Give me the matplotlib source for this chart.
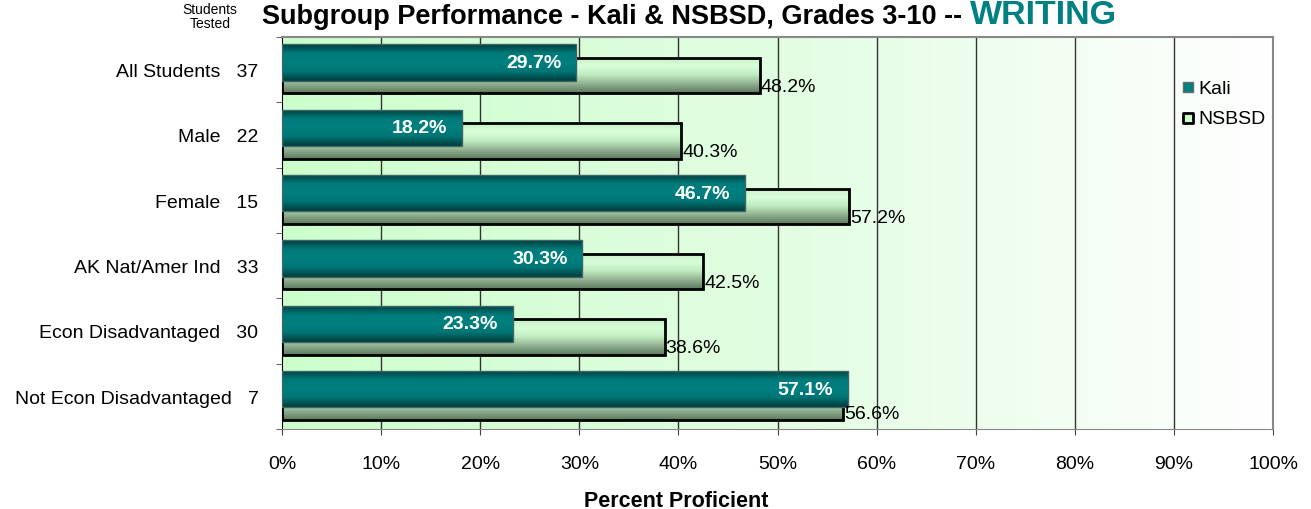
import numpy as np
import matplotlib.pyplot as plt
from matplotlib.colors import LinearSegmentedColormap

plt.rcParams['font.family'] = ['Liberation Sans', 'DejaVu Sans']

# donnees
groupes = ['All Students', 'Male', 'Female', 'AK Nat/Amer Ind',
           'Econ Disadvantaged', 'Not Econ Disadvantaged']
testes = [37, 22, 15, 33, 30, 7]
kali = [29.7, 18.2, 46.7, 30.3, 23.3, 57.1]
nsbsd = [48.2, 40.3, 57.2, 42.5, 38.6, 56.6]
graduations = [0, 10, 20, 30, 40, 50, 60, 70, 80, 90, 100]

fig = plt.figure(figsize=(13.11, 5.10), dpi=100)
ax = fig.add_axes([282 / 1311, 80 / 510, 991 / 1311, 392 / 510])

y = np.arange(len(groupes))

# fond vert degrade
fond = LinearSegmentedColormap.from_list('fond', ['#ccffcc', '#e2fde2', '#ffffff'])
ax.imshow(np.linspace(0, 1, 256).reshape(1, -1), cmap=fond, aspect='auto',
          extent=[0, 100, len(groupes) - 0.5, -0.5], zorder=0)

for g in graduations[1:-1]:
    ax.axvline(g, color='#333333', lw=1, zorder=1)

cmap_k = LinearSegmentedColormap.from_list('k', ['#003c3c', '#007a7a', '#008080', '#007474', '#003c3c'])
cmap_n = LinearSegmentedColormap.from_list('n', ['#c8f0c8', '#d8ffd8', '#c0eac0', '#90b090', '#5e7a5e'])


def barres_degradees(valeurs, decalage, hauteur, cmap, bord, lw, z):
    barres = ax.barh(y + decalage, valeurs, height=hauteur, facecolor='none',
                     edgecolor=bord, linewidth=lw, zorder=z + 0.5)
    for p in barres.patches:
        x0, y0 = p.get_x(), p.get_y()
        w, h = p.get_width(), p.get_height()
        im = ax.imshow(np.linspace(0, 1, 64).reshape(-1, 1), cmap=cmap, aspect='auto',
                       extent=[x0, x0 + w, y0 + h, y0], zorder=z)
        im.set_clip_path(p)
    return barres


barres_degradees(nsbsd, 0.09, 0.54, cmap_n, 'black', 2, 2)
barres_degradees(kali, -0.11, 0.56, cmap_k, '#3d6666', 1, 4)

for i in range(len(groupes)):
    ax.text(kali[i] - 1.5, y[i] - 0.11, '%.1f%%' % kali[i], color='white',
            fontsize=14, fontweight='bold', ha='right', va='center', zorder=6)
    ax.text(nsbsd[i] + 0.1, y[i] + 0.26, '%.1f%%' % nsbsd[i], color='black',
            fontsize=14, ha='left', va='center', zorder=6)

ax.set_xlim(0, 100)
ax.set_ylim(len(groupes) - 0.5, -0.5)
ax.set_xticks(graduations)
ax.set_xticklabels(['%d%%' % g for g in graduations], fontsize=14)
ax.set_yticks(y)
ax.set_yticklabels(['%s   %d' % (g, n) for g, n in zip(groupes, testes)], fontsize=14)
ax.set_yticks(np.arange(len(groupes) + 1) - 0.5, minor=True)
ax.tick_params(axis='y', which='major', length=0, pad=17)
ax.tick_params(axis='y', which='minor', length=4, color='#444444')
ax.tick_params(axis='x', length=4.5, color='#444444', pad=14)

for cote in ['top', 'right', 'bottom']:
    ax.spines[cote].set_color('#888888')
ax.spines['left'].set_color('black')
ax.spines['top'].set_linewidth(1.5)
ax.spines['right'].set_linewidth(1.5)

# legende
ax.scatter([], [], marker='s', s=50, c='#008080', edgecolors='#607070', label='Kali')
ax.scatter([], [], marker='s', s=50, c='#ccffcc', edgecolors='black', linewidths=2, label='NSBSD')
ax.legend(loc='upper left', bbox_to_anchor=(0.907, 0.893), frameon=False, fontsize=14,
          handlelength=0.7, handletextpad=0.2, labelspacing=0.65, borderpad=0, borderaxespad=0)

fig.text(676 / 1311, 3 / 510, 'Percent Proficient', fontsize=15.5, fontweight='bold',
         ha='center', va='baseline')
fig.text(210 / 1311, 493 / 510, 'Students\nTested', fontsize=10, ha='center', va='center',
         linespacing=1.0)
t = fig.text(262 / 1311, 486 / 510, 'Subgroup Performance - Kali & NSBSD, Grades 3-10 -- ',
             fontsize=19.5, fontweight='bold', ha='left', va='baseline')
fig.canvas.draw()
bb = t.get_window_extent()
fig.text(bb.x1 / 1311, 486 / 510, 'WRITING', fontsize=24.5, fontweight='bold', color='#008080',
         ha='left', va='baseline')

plt.savefig('out.png', dpi=100)
